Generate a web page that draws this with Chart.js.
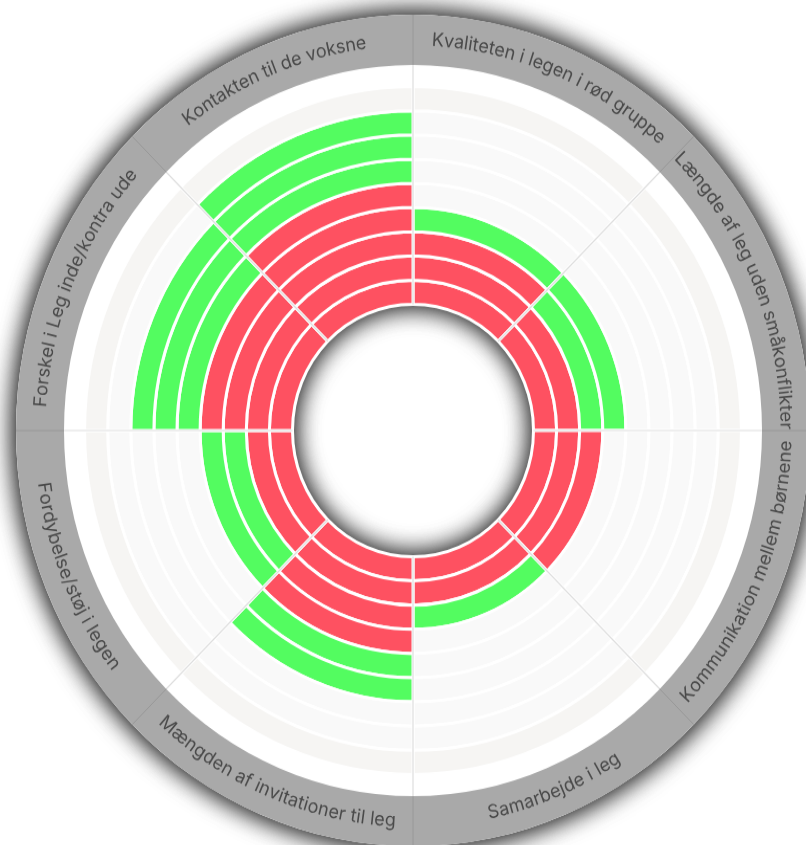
<!DOCTYPE html>
<html>
<head>
<meta charset="utf-8">
<script src="https://cdn.jsdelivr.net/npm/chart.js@4.4.1/dist/chart.umd.min.js"></script>
<style>
  html, body { margin: 0; padding: 0; background: #fff; overflow: hidden; }
  #wheel { display: block; }
</style>
</head>
<body>
<!-- drawn square, shown slightly taller like the original -->
<canvas id="wheel" width="826" height="822" style="width:826px;height:861px"></canvas>
<script>
const CATEGORIES = [
  'Kvaliteten i legen i rød gruppe',
  'Længde af leg uden småkonflikter',
  'Kommunikation mellem børnene',
  'Samarbejde i leg',
  'Mængden af invitationer til leg',
  'Fordybelse/støj i legen',
  'Forskel i Leg inde/kontra ude',
  'Kontakten til de voksne',
];
const RED_LEVELS   = [3, 2, 3, 2, 4, 2, 4, 5];
const GREEN_LEVELS = [1, 2, 0, 1, 2, 2, 3, 3];
const LEVELS = [1, 2, 3, 4, 5, 6, 7, 8, 9]; // tracks, centre outwards

const COLORS = {
  red:        '#fe5161',
  green:      '#53fc60',
  track:      '#f9f9f9',
  trackOuter: '#f6f5f3',
  ring:       '#a9a9a9',
  text:       '#4a4a4a',
  spoke:      '#dedede',
  spokeRing:  '#989898',
};

const OUTER_R = 397;
const INNER_R = 120.5;

const sectorShare = CATEGORIES.map(() => 1);

function levelColors(level) {
  return CATEGORIES.map((_, i) => {
    if (level <= RED_LEVELS[i]) return COLORS.red;
    if (level <= RED_LEVELS[i] + GREEN_LEVELS[i]) return COLORS.green;
    return level === LEVELS.length ? COLORS.trackOuter : COLORS.track;
  });
}

const datasets = [
  { label: 'labels', data: sectorShare, backgroundColor: COLORS.ring, borderWidth: 0, weight: 48 },
  { label: 'gap', data: sectorShare, backgroundColor: '#ffffff', borderWidth: 0, weight: 20.6 },
  ...LEVELS.slice().reverse().map(level => ({
    label: 'level ' + level,
    data: sectorShare,
    backgroundColor: levelColors(level),
    borderColor: '#ffffff',
    borderWidth: 3,
    weight: 23.1,
  })),
];

function drawArcText(ctx, text, cx, cy, r, mid, flip) {
  const chars = [...text];
  const widths = chars.map(ch => ctx.measureText(ch).width);
  const total = widths.reduce((a, b) => a + b, 0);
  let offset = -total / 2;
  chars.forEach((ch, k) => {
    const d = offset + widths[k] / 2;
    const theta = flip ? mid - d / r : mid + d / r;
    ctx.save();
    ctx.translate(cx + r * Math.cos(theta), cy + r * Math.sin(theta));
    ctx.rotate(flip ? theta - Math.PI / 2 : theta + Math.PI / 2);
    ctx.fillText(ch, 0, 0);
    ctx.restore();
    offset += widths[k];
  });
}

const wheelDecor = {
  id: 'wheelDecor',
  beforeDatasetsDraw(chart) {
    const { ctx } = chart;
    const outer = chart.getDatasetMeta(0).data[0];
    const inner = chart.getDatasetMeta(chart.data.datasets.length - 1).data[0];
    ctx.save();
    ctx.shadowColor = 'rgba(0,0,0,0.75)';
    ctx.shadowBlur = 26;
    ctx.fillStyle = '#ffffff';
    // two passes, the soft shadow is rather dark in the original
    for (let k = 0; k < 2; k++) {
      ctx.beginPath();
      ctx.arc(outer.x, outer.y, outer.outerRadius, 0, Math.PI * 2);
      ctx.arc(outer.x, outer.y, inner.innerRadius, 0, Math.PI * 2, true);
      ctx.fill();
    }
    ctx.restore();
  },
  afterDatasetsDraw(chart) {
    const { ctx } = chart;
    const ringArcs = chart.getDatasetMeta(0).data;
    const rInner = chart.getDatasetMeta(chart.data.datasets.length - 1).data[0].innerRadius;

    ctx.save();
    ringArcs.forEach(arc => {
      const a = arc.startAngle;
      const c = Math.cos(a), s = Math.sin(a);
      ctx.lineWidth = 1.2;
      ctx.strokeStyle = COLORS.spoke;
      ctx.beginPath();
      ctx.moveTo(arc.x + rInner * c, arc.y + rInner * s);
      ctx.lineTo(arc.x + arc.innerRadius * c, arc.y + arc.innerRadius * s);
      ctx.stroke();
      ctx.lineWidth = 1;
      ctx.strokeStyle = COLORS.spokeRing;
      ctx.beginPath();
      ctx.moveTo(arc.x + arc.innerRadius * c, arc.y + arc.innerRadius * s);
      ctx.lineTo(arc.x + arc.outerRadius * c, arc.y + arc.outerRadius * s);
      ctx.stroke();
    });

    ctx.fillStyle = COLORS.text;
    ctx.font = '400 18px Inter';
    ctx.textAlign = 'center';
    ctx.textBaseline = 'middle';
    ringArcs.forEach((arc, i) => {
      const mid = (arc.startAngle + arc.endAngle) / 2;
      const r = (arc.innerRadius + arc.outerRadius) / 2;
      drawArcText(ctx, CATEGORIES[i], arc.x, arc.y, r, mid, Math.sin(mid) > 0);
    });
    ctx.restore();
  },
};

new Chart(document.getElementById('wheel'), {
  type: 'doughnut',
  data: { labels: CATEGORIES, datasets },
  options: {
    responsive: false,
    devicePixelRatio: 1,
    animation: false,
    events: [],
    radius: OUTER_R,
    cutout: (INNER_R / OUTER_R * 100) + '%',
    layout: { padding: { left: 16, right: 16, top: 14, bottom: 14 } },
    plugins: { legend: { display: false }, tooltip: { enabled: false } },
  },
  plugins: [wheelDecor],
});
</script>
</body>
</html>
